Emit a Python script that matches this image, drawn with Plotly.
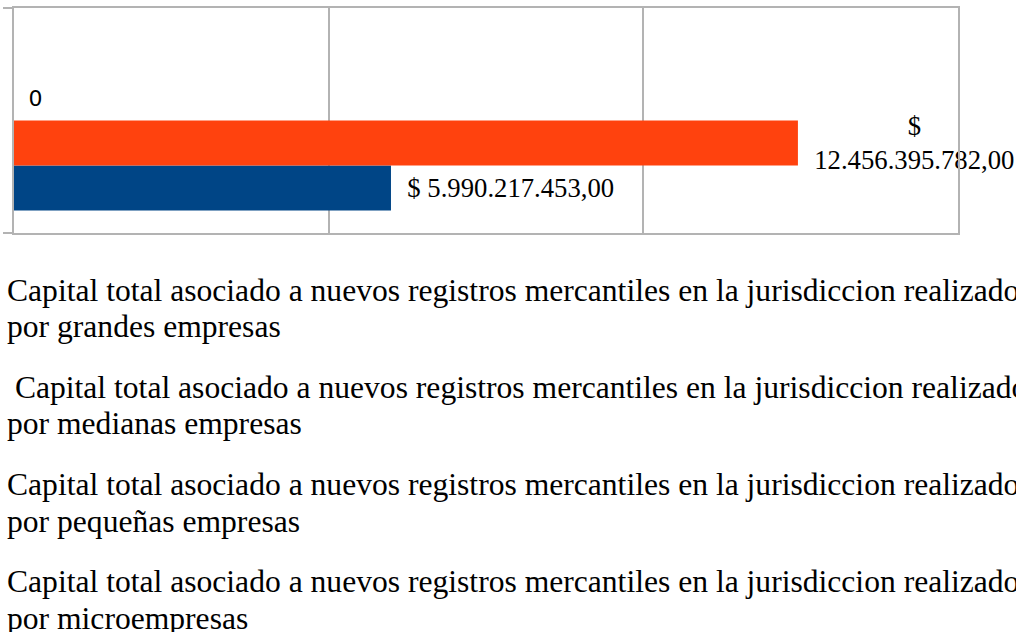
import plotly.graph_objects as go

category = [""]
series_names = [
    "Capital total asociado a nuevos registros mercantiles en la jurisdiccion realizado por grandes empresas",
    " Capital total asociado a nuevos registros mercantiles en la jurisdiccion realizado por medianas empresas",
    "Capital total asociado a nuevos registros mercantiles en la jurisdiccion realizado por pequeñas empresas",
    "Capital total asociado a nuevos registros mercantiles en la jurisdiccion realizado por microempresas",
]
legend_lines = [
    ["Capital total asociado a nuevos registros mercantiles en la jurisdiccion realizado", "por grandes empresas"],
    ["\u00a0Capital total asociado a nuevos registros mercantiles en la jurisdiccion realizado", "por medianas empresas"],
    ["Capital total asociado a nuevos registros mercantiles en la jurisdiccion realizado", "por pequeñas empresas"],
    ["Capital total asociado a nuevos registros mercantiles en la jurisdiccion realizado", "por microempresas"],
]
values = [5990217453.00, 12456395782.00, 0, 0]
labels = ["\u00a0\u00a0$ 5.990.217.453,00", "\u00a0\u00a0$<br>\u00a0\u00a012.456.395.782,00", "\u00a0\u2009" + "0", ""]
label_fonts = ["Liberation Serif", "Liberation Serif", "DejaVu Sans", "Liberation Serif"]
label_sizes = [26.7, 26.7, 22, 26.7]
colors = ["#004586", "#ff420e", "#ffd320", "#579d1c"]

W, H = 1016, 632
PLOT_LEFT, PLOT_RIGHT = 14, 958
PLOT_TOP, PLOT_BOTTOM = 8, 233

fig = go.Figure()
for name, v, lab, f, s, c in zip(series_names, values, labels, label_fonts, label_sizes, colors):
    fig.add_trace(go.Bar(
        y=category, x=[v], orientation="h", name=name,
        marker=dict(color=c, line=dict(width=0)),
        text=[lab], textposition="outside", texttemplate="%{text}",
        textfont=dict(family=f, size=s, color="#000000"),
        constraintext="none", cliponaxis=False, showlegend=False,
    ))

def px_x(px):
    return (px - PLOT_LEFT) / (PLOT_RIGHT - PLOT_LEFT)

def px_y(px):
    return (PLOT_BOTTOM - px) / (PLOT_BOTTOM - PLOT_TOP)

ann = []
for i, lines in enumerate(legend_lines):
    for j, line in enumerate(lines):
        ymid = 290 + i * 97.3 + j * 36.5
        ann.append(dict(
            text=line, x=px_x(5), xref="paper", y=px_y(ymid), yref="paper",
            showarrow=False, align="left", xanchor="left", yanchor="middle",
            font=dict(family="Liberation Serif", size=31.6, color="#000000"),
        ))

fig.update_layout(
    width=W, height=H,
    margin=dict(l=PLOT_LEFT, r=W - PLOT_RIGHT, t=PLOT_TOP, b=H - PLOT_BOTTOM, autoexpand=False),
    paper_bgcolor="white", plot_bgcolor="white",
    barmode="group", bargap=0.2, bargroupgap=0,
    showlegend=False, annotations=ann,
    xaxis=dict(range=[0, 15e9], dtick=5e9, showgrid=True, gridcolor="#b3b3b3", gridwidth=2,
               showticklabels=False, zeroline=False, showline=True, linecolor="#b3b3b3",
               linewidth=2, mirror=True, ticks=""),
    yaxis=dict(showticklabels=False, showgrid=False, zeroline=False, showline=True,
               linecolor="#b3b3b3", linewidth=2, mirror=True, ticks="outside",
               tickson="boundaries", ticklen=9, tickcolor="#b3b3b3", tickwidth=2),
)
fig.write_html("out.html", config={"displayModeBar": False},
               post_script="document.body.style.margin='0';")
